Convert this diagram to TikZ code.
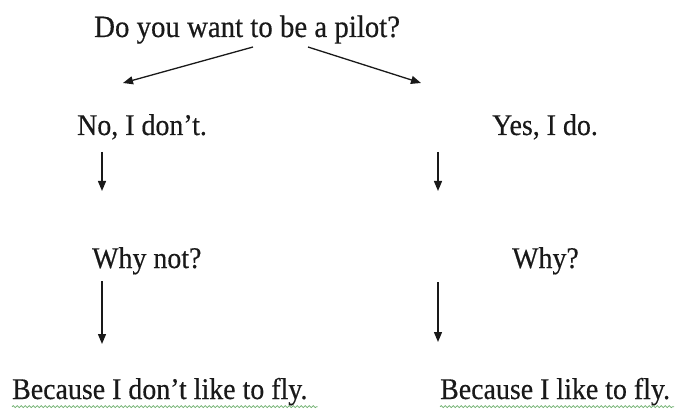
\documentclass[tikz,border=0pt]{standalone}
\usepackage{fontspec}
\setmainfont{Liberation Serif}[FakeStretch=0.93,FakeBold=0.4]
\usetikzlibrary{arrows.meta,positioning,decorations.pathmorphing}
\definecolor{squiggle}{RGB}{110,175,110}
\definecolor{ink}{RGB}{25,25,25}

\begin{document}
\begin{tikzpicture}[
  x=1pt, y=-1pt, >={Triangle[length=10pt,width=8pt]},
  every node/.style={font=\fontsize{30}{36}\selectfont, text=ink,
                     inner sep=0pt, anchor=base west},
  flow/.style={->, draw=ink, line width=1.3pt},
  squig/.style={draw=squiggle, line width=0.8pt, decorate,
                decoration={snake, amplitude=1pt, segment length=4pt}}
]
  \useasboundingbox (0,0) rectangle (678,409);
  \node[font=\fontsize{31}{37}\selectfont] (q) at (94,37) {Do you want to be a pilot?};
  \node (no) at (77,135) {No, I don't.};
  \node (yes) at (492,135) {Yes, I do.};
  \node (whynot) at (92,268) {Why not?};
  \node (why) at (512,268) {Why?};
  \node (becno) at (12,399) {Because I don't like to fly.};
  \node (becyes) at (440,399) {Because I like to fly.};
  % arrow ends
  \coordinate (qL) at (253,47);  \coordinate (noT) at (123,83);
  \coordinate (qR) at (308,47);  \coordinate (yesT) at (421,83);
  \coordinate (noB) at (102,152);  \coordinate (wnT) at (102,191);
  \coordinate (yesB) at (438,152); \coordinate (whT) at (438,191);
  \coordinate (wnB) at (102,281);  \coordinate (bnT) at (102,344);
  \coordinate (whB) at (438,282);  \coordinate (byT) at (438,342);
  \foreach \a/\b in {qL/noT,qR/yesT,noB/wnT,yesB/whT,wnB/bnT,whB/byT}
    \draw[flow] (\a) -- (\b);
  % grammar squiggles
  \draw[squig] ([yshift=-1pt]becno.south west) -- ([xshift=10pt,yshift=-1pt]becno.south east);
  \draw[squig] ([yshift=-1pt]becyes.south west) -- ([xshift=4pt,yshift=-1pt]becyes.south east);
\end{tikzpicture}
\end{document}
